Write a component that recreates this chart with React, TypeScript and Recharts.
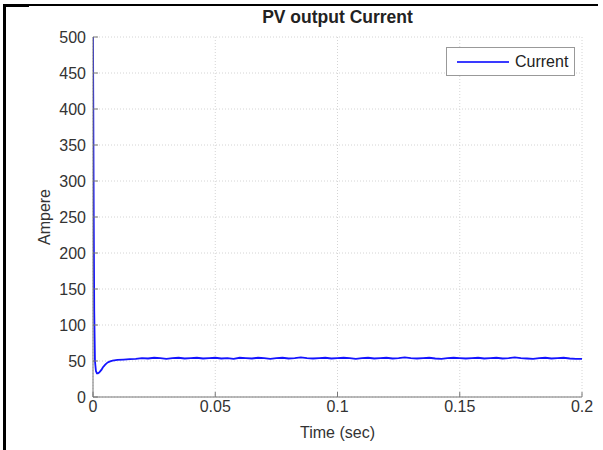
import React from "react";
import { LineChart, Line, XAxis, YAxis, CartesianGrid, Legend } from "recharts";

const times = [
  0, 0.0001, 0.0003, 0.0005, 0.0008, 0.0012, 0.0016, 0.002, 0.0025, 0.003, 0.0035, 0.004, 0.005, 0.006, 0.007, 0.008, 0.01,
  0.0125, 0.015, 0.0175, 0.02, 0.0225, 0.025, 0.0275, 0.03, 0.0325, 0.035, 0.0375, 0.04, 0.0425, 0.045, 0.0475, 0.05,
  0.0525, 0.055, 0.0575, 0.06, 0.0625, 0.065, 0.0675, 0.07, 0.0725, 0.075, 0.0775, 0.08, 0.0825, 0.085, 0.0875, 0.09,
  0.0925, 0.095, 0.0975, 0.1, 0.1025, 0.105, 0.1075, 0.11, 0.1125, 0.115, 0.1175, 0.12, 0.1225, 0.125, 0.1275, 0.13,
  0.1325, 0.135, 0.1375, 0.14, 0.1425, 0.145, 0.1475, 0.15, 0.1525, 0.155, 0.1575, 0.16, 0.1625, 0.165, 0.1675, 0.17,
  0.1725, 0.175, 0.1775, 0.18, 0.1825, 0.185, 0.1875, 0.19, 0.1925, 0.195, 0.1975, 0.2,
];
const current = [
  500, 420, 250, 120, 50, 36, 33, 33, 34, 36, 38, 41, 45, 48, 49.5, 50.5, 51.5,
  52, 52.5, 53, 54, 53.5, 54.5, 54, 53, 54, 54.5, 53.5, 54, 54.5, 53.5, 54, 54.5,
  53.5, 54, 53, 54.5, 54, 53.5, 54.5, 54, 53, 54, 54.5, 53.5, 54, 55, 54, 53.5,
  54, 54.5, 53.5, 54, 54.5, 54, 53, 54, 54.5, 53.5, 54, 54.5, 53.5, 54, 55, 54,
  53.5, 54, 54.5, 53.5, 53, 54, 54.5, 54, 53.5, 54, 54.5, 53.5, 54, 54.5, 53.5, 54,
  55, 54, 53.5, 53, 54, 54.5, 53.5, 54, 54.5, 53.5, 53, 53,
];
const xTicks = [0, 0.05, 0.1, 0.15, 0.2];
const yTicks = [0, 50, 100, 150, 200, 250, 300, 350, 400, 450, 500];
const seriesName = "Current";
const titleText = "PV output Current";
const xLabel = "Time (sec)";
const yLabel = "Ampere";

const data = times.map((t, i) => ({ t, v: current[i] }));

const FONT = "'Liberation Sans', Arial, sans-serif";
const AX = "#777";
const TXT = "#333";

const LegendBox = () => (
  <div
    style={{
      width: 129,
      height: 29,
      border: "1px solid #999",
      background: "#fff",
      display: "flex",
      alignItems: "center",
      fontFamily: FONT,
      fontSize: 16,
      color: "#222",
      boxSizing: "border-box",
    }}
  >
    <div style={{ marginLeft: 10, width: 52, height: 2, background: "#3a3aff" }} />
    <span style={{ marginLeft: 6 }}>{seriesName}</span>
  </div>
);

export default function App() {
  return (
    <div style={{ position: "absolute", left: 0, top: 0, width: 603, height: 450, background: "#fff", overflow: "hidden" }}>
      <div style={{ position: "absolute", left: 3, top: 4, width: 3, height: 446, background: "#000" }} />
      <div style={{ position: "absolute", left: 3, top: 4, width: 26, height: 3, background: "#000" }} />
      <div style={{ position: "absolute", left: 3, top: 4, width: 595, height: 1.5, background: "#000" }} />
      <div
        style={{
          position: "absolute",
          left: 93,
          width: 489,
          top: 7,
          textAlign: "center",
          fontFamily: FONT,
          fontWeight: "bold",
          fontSize: 17.5,
          color: "#222",
        }}
      >
        {titleText}
      </div>
      <div
        style={{
          position: "absolute",
          left: 93,
          width: 489,
          top: 424,
          textAlign: "center",
          fontFamily: FONT,
          fontSize: 16,
          color: TXT,
        }}
      >
        {xLabel}
      </div>
      <div
        style={{
          position: "absolute",
          left: 45,
          top: 217,
          transform: "translate(-50%, -50%) rotate(-90deg)",
          fontFamily: FONT,
          fontSize: 16,
          color: TXT,
          whiteSpace: "nowrap",
        }}
      >
        {yLabel}
      </div>
      <div style={{ position: "absolute", left: 0, top: 0 }}>
        <LineChart width={603} height={450} data={data} margin={{ top: 37, right: 21, bottom: 23, left: 43 }}>
          <CartesianGrid xAxisId="b" yAxisId="l" stroke="#d4d4d4" strokeDasharray="1 2" />
          <XAxis
            xAxisId="b"
            dataKey="t"
            type="number"
            domain={[0, 0.2]}
            ticks={xTicks}
            height={30}
            stroke={AX}
            tickSize={-5}
            tickMargin={9}
            tick={{ fill: TXT, fontSize: 16, fontFamily: FONT }}
            allowDataOverflow
          />
          <XAxis
            xAxisId="top"
            orientation="top"
            dataKey="t"
            type="number"
            domain={[0, 0.2]}
            ticks={xTicks}
            height={0}
            stroke={AX}
            tickSize={-5}
            tick={false}
          />
          <YAxis
            yAxisId="l"
            type="number"
            domain={[0, 500]}
            ticks={yTicks}
            width={50}
            stroke={AX}
            tickSize={-5}
            tickMargin={12}
            tick={{ fill: TXT, fontSize: 16, fontFamily: FONT }}
            allowDataOverflow
          />
          <YAxis
            yAxisId="r"
            orientation="right"
            type="number"
            domain={[0, 500]}
            ticks={yTicks}
            width={0}
            stroke={AX}
            tickSize={-5}
            tick={false}
          />
          <Legend
            verticalAlign="middle"
            align="center"
            layout="horizontal"
            wrapperStyle={{ position: "absolute", top: 47, left: 446, width: 129, right: "auto", bottom: "auto" }}
            content={() => <LegendBox />}
          />
          <Line
            xAxisId="b"
            yAxisId="l"
            type="linear"
            dataKey="v"
            name={seriesName}
            stroke="#1414ff"
            strokeWidth={1.8}
            dot={false}
            isAnimationActive={false}
          />
        </LineChart>
      </div>
    </div>
  );
}
